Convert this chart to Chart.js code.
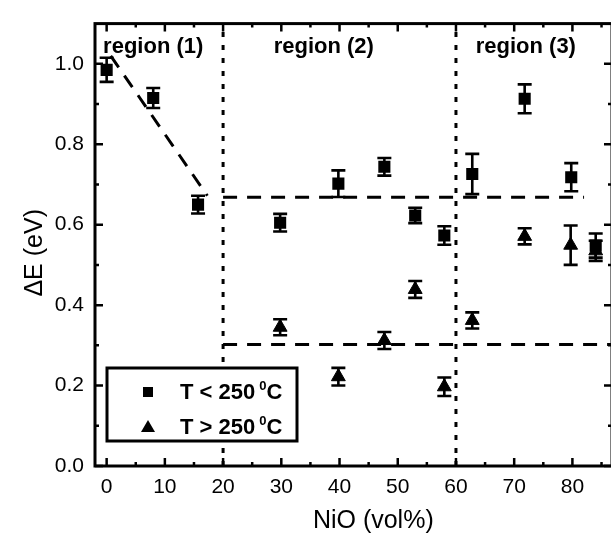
<!DOCTYPE html>
<html>
<head>
<meta charset="utf-8">
<script src="https://cdn.jsdelivr.net/npm/chart.js@4.4.0/dist/chart.umd.min.js"></script>
<style>
  html, body { margin: 0; padding: 0; background: #fff; overflow: hidden; }
  canvas { display: block; }
</style>
</head>
<body>
<!-- a little wider than the window: the right frame edge falls just off the picture -->
<canvas id="gapChart" width="621" height="533"></canvas>
<script>
// T < 250 C (squares)
const lowTempX = [0, 8, 15.7, 29.8, 39.8, 47.7, 53, 58, 62.8, 71.8, 79.8, 84];
const lowTempY = [0.985, 0.915, 0.65, 0.605, 0.702, 0.744, 0.623, 0.573, 0.726, 0.913, 0.718, 0.548];
const lowTempErr = [0.03, 0.025, 0.022, 0.022, 0.033, 0.022, 0.019, 0.023, 0.05, 0.036, 0.035, 0.03];

// T > 250 C (triangles)
const highTempX = [29.8, 39.8, 47.7, 53, 58, 62.8, 71.8, 79.7, 84];
const highTempY = [0.345, 0.222, 0.312, 0.439, 0.197, 0.362, 0.571, 0.549, 0.535];
const highTempErr = [0.02, 0.022, 0.021, 0.021, 0.023, 0.02, 0.02, 0.049, 0.025];

// dashed guide lines
const trendX = [0.7, 17.3];
const trendY = [1.02, 0.672];
const upperGuideX = [20, 82];
const upperGuideY = [0.668, 0.668];
const lowerGuideX = [20, 86.8];
const lowerGuideY = [0.302, 0.302];

// dotted region boundaries
const regionBounds = [20, 60];
const regionNames = ['region (1)', 'region (2)', 'region (3)'];
const regionNameX = [8, 37.3, 72];

const xTickValues = [0, 10, 20, 30, 40, 50, 60, 70, 80];
const yTickValues = [0, 0.2, 0.4, 0.6, 0.8, 1.0];
const legendLabels = ['T < 250 ', 'T > 250 '];

const FONT = "'Liberation Sans', Arial, sans-serif";

function toPoints(xs, ys) {
  return xs.map((x, i) => ({ x: x, y: ys[i] }));
}

function drawErrorBars(chart, xs, ys, errs) {
  const ctx = chart.ctx;
  const xScale = chart.scales.x;
  const yScale = chart.scales.y;
  ctx.save();
  ctx.strokeStyle = '#000';
  ctx.lineWidth = 2.6;
  xs.forEach((xv, i) => {
    const px = xScale.getPixelForValue(xv);
    const top = yScale.getPixelForValue(ys[i] + errs[i]);
    const bot = yScale.getPixelForValue(ys[i] - errs[i]);
    ctx.beginPath();
    ctx.moveTo(px, top); ctx.lineTo(px, bot);
    ctx.moveTo(px - 7, top); ctx.lineTo(px + 7, top);
    ctx.moveTo(px - 7, bot); ctx.lineTo(px + 7, bot);
    ctx.stroke();
  });
  ctx.restore();
}

function drawFrameAndTicks(chart) {
  const ctx = chart.ctx;
  const a = chart.chartArea;
  const xScale = chart.scales.x;
  const yScale = chart.scales.y;
  ctx.save();
  ctx.strokeStyle = '#000';
  ctx.lineWidth = 3;
  ctx.strokeRect(a.left, a.top, a.right - a.left, a.bottom - a.top);

  ctx.lineWidth = 2.5;
  ctx.beginPath();
  for (let v = 0; v <= 85; v += 5) {
    const px = xScale.getPixelForValue(v);
    const len = v % 10 === 0 ? 8 : 4;
    ctx.moveTo(px, a.bottom); ctx.lineTo(px, a.bottom - len);
    ctx.moveTo(px, a.top); ctx.lineTo(px, a.top + len);
  }
  for (let k = 0; k <= 10; k++) {
    const py = yScale.getPixelForValue(k / 10);
    const len = k % 2 === 0 ? 8 : 4;
    ctx.moveTo(a.left, py); ctx.lineTo(a.left + len, py);
    ctx.moveTo(a.right, py); ctx.lineTo(a.right - len, py);
  }
  ctx.stroke();
  ctx.restore();
}

function drawTexts(chart) {
  const ctx = chart.ctx;
  const a = chart.chartArea;
  const xScale = chart.scales.x;
  ctx.save();
  ctx.fillStyle = '#000';

  // region labels
  ctx.font = 'bold 22px ' + FONT;
  ctx.textAlign = 'center';
  ctx.textBaseline = 'alphabetic';
  regionNames.forEach((name, i) => {
    ctx.fillText(name, xScale.getPixelForValue(regionNameX[i]), a.top + 29);
  });

  // axis titles
  ctx.font = '25px ' + FONT;
  ctx.fillText('NiO (vol%)', xScale.getPixelForValue(45.8), 528);
  ctx.translate(42, (a.top + a.bottom) / 2 + 8);
  ctx.rotate(-Math.PI / 2);
  ctx.fillText('\u0394E (eV)', 0, 0);
  ctx.restore();
}

function drawLegend(chart) {
  const ctx = chart.ctx;
  const a = chart.chartArea;
  const left = a.left + 12;
  const top = a.bottom - 98;
  ctx.save();
  ctx.fillStyle = '#fff';
  ctx.fillRect(left, top, 190, 73);
  ctx.strokeStyle = '#000';
  ctx.lineWidth = 3;
  ctx.strokeRect(left, top, 190, 73);

  ctx.fillStyle = '#000';
  const mx = left + 41;
  const rowY = [top + 24, top + 59];
  // square marker
  ctx.fillRect(mx - 5, rowY[0] - 5, 10, 10);
  // triangle marker
  ctx.beginPath();
  ctx.moveTo(mx, rowY[1] - 7);
  ctx.lineTo(mx + 7, rowY[1] + 5);
  ctx.lineTo(mx - 7, rowY[1] + 5);
  ctx.closePath();
  ctx.fill();

  ctx.textAlign = 'left';
  ctx.textBaseline = 'alphabetic';
  legendLabels.forEach((label, i) => {
    const base = rowY[i] + 7;
    let tx = left + 73;
    ctx.font = 'bold 22px ' + FONT;
    ctx.fillText(label, tx, base);
    tx += ctx.measureText(label).width - 2;
    ctx.font = 'bold 13px ' + FONT;
    ctx.fillText('0', tx, base - 9);
    tx += ctx.measureText('0').width;
    ctx.font = 'bold 22px ' + FONT;
    ctx.fillText('C', tx, base);
  });
  ctx.restore();
}

const decorPlugin = {
  id: 'decor',
  beforeDatasetsDraw(chart) {
    drawErrorBars(chart, lowTempX, lowTempY, lowTempErr);
    drawErrorBars(chart, highTempX, highTempY, highTempErr);
  },
  afterDatasetsDraw(chart) {
    drawFrameAndTicks(chart);
    drawTexts(chart);
    drawLegend(chart);
  },
};

function guideLine(xs, ys, dash) {
  return {
    type: 'line',
    data: toPoints(xs, ys),
    borderColor: '#000',
    borderWidth: 3,
    borderDash: dash,
    pointRadius: 0,
    showLine: true,
    fill: false,
    order: 3,
  };
}

const datasets = [
  {
    label: 'T < 250 C',
    data: toPoints(lowTempX, lowTempY),
    pointStyle: 'rect',
    pointRadius: 7.5,
    pointBorderWidth: 1.5,
    backgroundColor: '#000',
    borderColor: '#000',
    showLine: false,
    order: 1,
  },
  {
    label: 'T > 250 C',
    data: toPoints(highTempX, highTempY),
    pointStyle: 'triangle',
    pointRadius: 8,
    pointBorderWidth: 1,
    backgroundColor: '#000',
    borderColor: '#000',
    showLine: false,
    order: 1,
  },
  guideLine(trendX, trendY, [14, 10]),
  guideLine(upperGuideX, upperGuideY, [14, 10]),
  guideLine(lowerGuideX, lowerGuideY, [14, 10]),
];
regionBounds.forEach((b) => {
  datasets.push(guideLine([b, b], [0, 1.1], [5, 8]));
});

new Chart(document.getElementById('gapChart'), {
  type: 'scatter',
  data: { datasets: datasets },
  plugins: [decorPlugin],
  options: {
    responsive: false,
    animation: false,
    devicePixelRatio: 1,
    layout: { padding: { top: 13, right: 0, bottom: 0, left: 0 } },
    plugins: { legend: { display: false }, tooltip: { enabled: false } },
    scales: {
      x: {
        type: 'linear',
        min: -2,
        max: 86.8,
        afterBuildTicks: (s) => { s.ticks = xTickValues.map((v) => ({ value: v })); },
        afterFit: (s) => {
          s.height = 67;
          s.paddingLeft = 0;
          s.paddingRight = 0;
        },
        ticks: { color: '#000', font: { family: FONT, size: 21 }, padding: 9, maxRotation: 0, autoSkip: false },
        grid: { display: false, drawTicks: false },
        border: { display: false },
      },
      y: {
        type: 'linear',
        min: 0,
        max: 1.1,
        afterBuildTicks: (s) => { s.ticks = yTickValues.map((v) => ({ value: v })); },
        afterFit: (s) => { s.width = 95; },
        ticks: { color: '#000', font: { family: FONT, size: 21 }, padding: 11, callback: (v) => Number(v).toFixed(1) },
        grid: { display: false, drawTicks: false },
        border: { display: false },
      },
    },
  },
});
</script>
</body>
</html>
